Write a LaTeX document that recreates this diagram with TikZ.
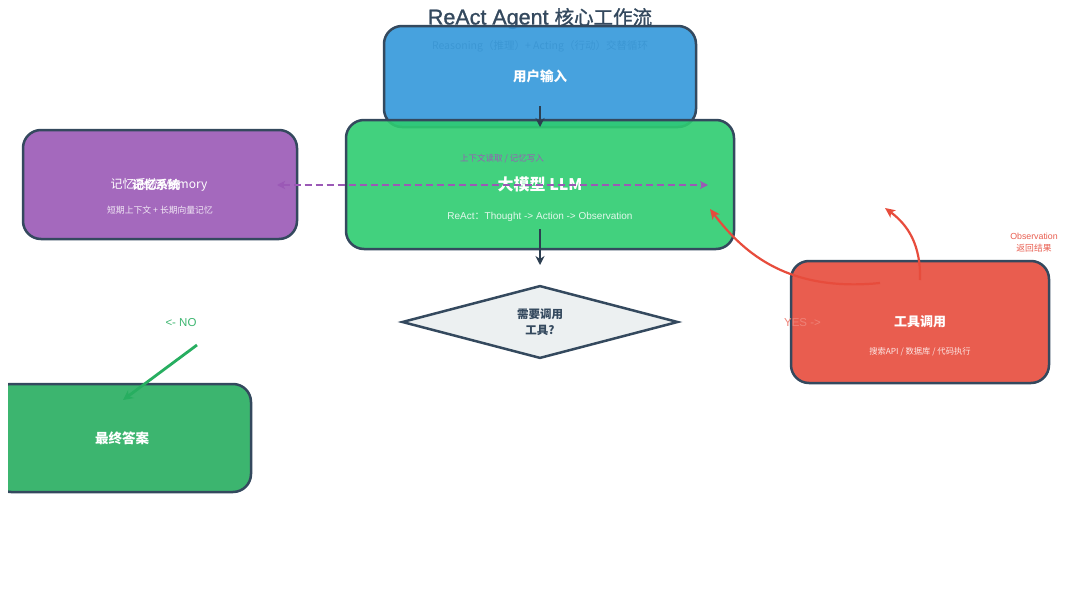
\documentclass[tikz,border=0pt]{standalone}
\usepackage{fontspec}
\setmainfont{Noto Sans CJK SC}
\newfontfamily\lat{Liberation Sans}
\newfontfamily\tcjk[FakeBold=1.2]{Noto Sans CJK SC}
\newfontfamily\tlat[FakeBold=1.2]{Liberation Sans}
\usetikzlibrary{shapes.geometric,arrows.meta,calc}
\definecolor{dk}{HTML}{34495E}
\definecolor{cgray}{HTML}{7F8C8D}
\definecolor{cblue}{HTML}{3498DB}
\definecolor{cgreen}{HTML}{2ECC71}
\definecolor{cpurple}{HTML}{9B59B6}
\definecolor{cred}{HTML}{E74C3C}
\definecolor{cfinal}{HTML}{27AE60}
\definecolor{cdia}{HTML}{ECF0F1}
\definecolor{cdark}{HTML}{2C3E50}
\begin{document}
\begin{tikzpicture}[x=1pt,y=-1pt,
  box/.style={draw=dk, line width=2.5pt, rounded corners=18pt, fill opacity=0.9, text opacity=1,
    inner sep=0pt, text=white, font=\bfseries\fontsize{13.5}{16}\selectfont},
  boxsub/.style={inner sep=0pt, text=white, text opacity=0.85, font=\fontsize{9.5}{11}\selectfont},
  lbl/.style={inner sep=0pt, font=\fontsize{8.5}{12}\selectfont},
  darr/.style={draw=cdark, line width=2.5pt, -{Stealth[length=9pt,width=9pt]}},
  rarr/.style={draw=cred, line width=2.2pt, -{Stealth[length=10pt,width=9pt,inset=2.5pt]}},
  garr/.style={draw=cfinal, line width=2.8pt, -{Stealth[length=10pt,width=10pt]}},
  dasharr/.style={draw=cpurple, line width=2.2pt, dash pattern=on 7pt off 4pt,
    {Stealth[length=8pt,width=8pt,inset=2pt]}-{Stealth[length=8pt,width=8pt,inset=2pt]}}
]
\useasboundingbox[fill=white] (0,0) rectangle (1080,613);

% title and subtitle
\node[inner sep=0pt, text=dk] (title) at (540,18.5)
  {\tlat\fontsize{21.5}{24}\selectfont ReAct Agent \tcjk\fontsize{19.5}{24}\selectfont 核心工作流};
\node[inner sep=0pt, text=cgray, font=\fontsize{10.5}{12}\selectfont] (sub) at (540,46) {Reasoning（推理）+ Acting（行动）交替循环};

% user input
\node[box, fill=cblue, minimum width=312pt, minimum height=101pt] (user) at (540,76.5) {用户输入};

% LLM
\node[box, fill=cgreen, minimum width=388pt, minimum height=129pt,
  font=\bfseries\fontsize{16}{19}\selectfont] (llm) at (540,184.5) {大模型 LLM};
\node[boxsub, font=\fontsize{10}{11}\selectfont] (llmsub) at (540,217) {\lat ReAct\normalfont：\lat Thought -> Action -> Observation};
\node[lbl, text=cpurple, font=\fontsize{8.5}{10}\selectfont] (memlbl) at (502,159) {上下文读取 / 记忆写入};

% memory
\node[box, fill=cpurple, minimum width=274pt, minimum height=109pt] (mem) at (160,184.5) {};
\node[inner sep=0pt, text=white, font=\fontsize{12}{14}\selectfont] (memA) at (159,185) {记忆系统 Memory};
\node[inner sep=0pt, text=white, font=\bfseries\fontsize{12}{14}\selectfont] (memB) at (156,185) {记忆系统};
\node[boxsub, font=\fontsize{8.8}{10}\selectfont] (memsub) at (160,210) {短期上下文 + 长期向量记忆};

% decision
\node[diamond, draw=dk, line width=2.5pt, fill=cdia, minimum width=276pt, minimum height=72pt,
  inner sep=0pt, align=center, text=dk, font=\bfseries\fontsize{11.5}{16}\selectfont] (dec) at (540,322) {需要调用\\工具?};

% tool
\node[box, fill=cred, minimum width=258pt, minimum height=122pt,
  font=\bfseries\fontsize{13}{16}\selectfont] (tool) at (920,322) {工具调用};
\node[boxsub, font=\fontsize{8.3}{10}\selectfont] (toolsub) at (920,352) {搜索API / 数据库 / 代码执行};
\node[lbl, text=cred!90, align=center, font=\fontsize{8.8}{12}\selectfont] (obs) at (1034,243) {{\lat Observation}\\返回结果};
\node[inner sep=0pt, text=cred!70, font=\lat\fontsize{11.5}{13}\selectfont] (yes) at (802.5,323) {YES ->};

% final answer
\begin{scope}
\clip (8,0) rectangle (1080,613);
\node[box, fill=cfinal, minimum width=258pt, minimum height=108pt] (final) at (122,438) {最终答案};
\end{scope}
\node[inner sep=0pt, text=cfinal!90, font=\lat\fontsize{11.5}{13}\selectfont] (no) at (181,323) {<- NO};

% connectors
\coordinate (u1) at (540,106);
\coordinate (l1) at (540,127);
\draw[darr] (u1) -- (l1);
\coordinate (l2) at (540,229);
\coordinate (d1) at (540,265);
\draw[darr] (l2) -- (d1);
\coordinate (m1) at (277,185);
\coordinate (m2) at (708,185);
\draw[dasharr] (m1) -- (m2);
\coordinate (t1) at (880,283);
\coordinate (t1e) at (710,209);
\draw[rarr] (t1) .. controls (790,292) and (745,255) .. (t1e);
\coordinate (t2) at (920,280);
\coordinate (t2e) at (885,208);
\draw[rarr] (t2) .. controls (921,245) and (908,225) .. (t2e);
\coordinate (n1) at (197,345);
\coordinate (n2) at (123,400);
\draw[garr] (n1) -- (n2);
\end{tikzpicture}
\end{document}
